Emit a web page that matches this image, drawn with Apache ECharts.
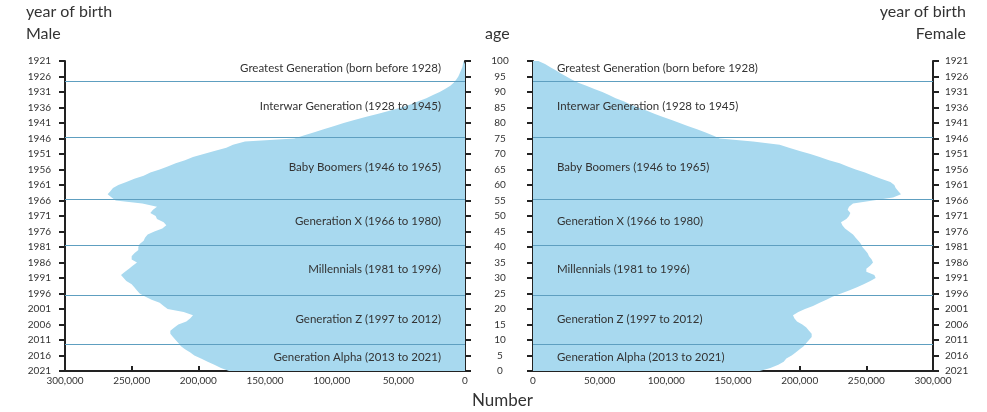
<!DOCTYPE html>
<html>
<head>
<meta charset="utf-8">
<script src="https://cdn.jsdelivr.net/npm/echarts@6/dist/echarts.min.js"></script>
<style>
html,body{margin:0;padding:0;background:#fff;}
#chart{width:987px;height:412px;}
</style>
</head>
<body>
<div id="chart"></div>
<script>
// Age categories (0..100) and matching year of birth tick labels
const ages = [];
const birthYears = [];
for (let a = 0; a <= 100; a++) { ages.push(String(a)); birthYears.push(String(2021 - a)); }

// Population by single year of age, age 0 .. 100
const male = [177000,183000,188000,193000,198000,203000,206000,210000,213000,215000,
  217000,219000,221000,221000,218000,215000,209000,206000,204000,211000,
  223000,226000,229000,235000,240000,244000,246000,248000,250000,254000,
  256000,258000,255000,252000,249000,246000,250000,250000,248000,245000,
  245000,244000,241000,240000,238000,233000,227000,224000,226000,231000,
  232000,236000,234000,231000,242000,262000,265000,268000,266000,264000,
  260000,254000,248000,241000,236000,229000,223000,217000,210000,204000,
  196000,188000,179000,174000,165000,128000,121000,113000,106000,98000,
  91000,83000,74000,65000,56000,48000,41000,35000,29000,24000,
  19000,15000,11000,8500,6500,5000,4000,3000,2000,1500,1000];

const female = [170000,178000,184000,188000,190000,194000,197000,200000,203000,205000,
  207000,209000,209000,207000,205000,202000,198000,196000,195000,199000,
  204000,210000,215000,220000,225000,231000,237000,243000,248000,253000,
  257000,256000,250000,250000,253000,255000,254000,252000,251000,249000,
  247000,246000,244000,242000,240000,237000,234000,232000,231000,235000,
  237000,238000,236000,237000,240000,255000,270000,276000,274000,272000,
  271000,268000,261000,255000,249000,242000,236000,230000,222000,215000,
  208000,200000,192000,185000,165000,140000,135000,129000,123000,116000,
  110000,104000,97000,91000,85000,79000,73000,68000,62000,57000,
  52000,46000,40000,34000,29000,25000,21000,17000,13000,9000,4000];

// Generation bands (age ranges at census) and their names
const genNames = ['Greatest Generation (born before 1928)','Interwar Generation (1928 to 1945)',
  'Baby Boomers (1946 to 1965)','Generation X (1966 to 1980)','Millennials (1981 to 1996)',
  'Generation Z (1997 to 2012)','Generation Alpha (2013 to 2021)'];
const genLow  = [93.5, 75.5, 55.5, 40.5, 24.5, 8.5, 0];
const genHigh = [100, 93.5, 75.5, 55.5, 40.5, 24.5, 8.5];
const genBoundaries = [93.5, 75.5, 55.5, 40.5, 24.5, 8.5];

const FONT = 'Lato';
const TXT = '#333';
const FILL = '#a8d9ef';
const GENLINE = '#5e9fc0';
const AXIS = '#222';

function fmt(v){ return v.toLocaleString('en-US'); }

function markers(side){
  return {
    type: 'line', data: [], xAxisIndex: side, yAxisIndex: side*3 + 2, z: 10, silent: true,
    markLine: {
      silent: true, symbol: 'none', z: 10,
      lineStyle: {color: GENLINE, width: 1, type: 'solid'},
      label: {show: false},
      data: genBoundaries.map(v => ({yAxis: v}))
    },
    markArea: {
      silent: true, z: 10,
      itemStyle: {color: 'rgba(0,0,0,0)'},
      label: {
        show: true,
        position: side === 0 ? 'insideRight' : 'insideLeft',
        distance: 24,
        color: TXT, fontFamily: FONT, fontSize: 11.5
      },
      data: genNames.map((n, i) => [
        {name: n, yAxis: genLow[i], label: {offset: [0, i < 2 ? -3 : -1]}},
        {yAxis: genHigh[i]}
      ])
    }
  };
}

function xAxisFor(grid, inverse){
  return {
    type: 'value', gridIndex: grid, min: 0, max: 300000, interval: 50000, inverse: inverse,
    axisLine: {show: true, lineStyle: {color: AXIS, width: 2}},
    axisTick: {show: true, inside: true, length: 5, lineStyle: {color: AXIS, width: 2}},
    axisLabel: {formatter: fmt, color: TXT, fontFamily: FONT, fontSize: 10, margin: 5},
    splitLine: {show: false}
  };
}

function catAxis(grid, pos, labels, showLabel, align, margin){
  return {
    type: 'category', gridIndex: grid, position: pos, data: labels, boundaryGap: false,
    axisLine: {show: true, onZero: false, lineStyle: {color: AXIS, width: 2}},
    axisTick: {show: true, interval: 4, length: 6, alignWithLabel: true, lineStyle: {color: AXIS, width: 2}},
    axisLabel: {show: showLabel, interval: 4, color: TXT, fontFamily: FONT, fontSize: 10, align: align, margin: margin},
    splitLine: {show: false}
  };
}

function hiddenVal(grid){
  return {type: 'value', gridIndex: grid, min: 0, max: 100, show: false, splitLine: {show: false}};
}

const titleStyle = {color: TXT, fontFamily: FONT, fontSize: 16, fontWeight: 'normal'};

const option = {
  backgroundColor: '#fff',
  animation: false,
  title: [
    {text: 'year of birth', left: 26, top: 4, padding: 0, textStyle: titleStyle},
    {text: 'Male', left: 26, top: 26, padding: 0, textStyle: titleStyle},
    {text: 'age', left: 485, top: 26, padding: 0, textStyle: titleStyle},
    {text: 'year of birth', right: 21, top: 4, padding: 0, textStyle: titleStyle},
    {text: 'Female', right: 21, top: 26, padding: 0, textStyle: titleStyle},
    {text: 'Number', left: 472, top: 392, padding: 0, textStyle: Object.assign({}, titleStyle, {fontSize: 17})}
  ],
  grid: [
    {left: 65, top: 61, width: 400, height: 310},
    {left: 533, top: 61, width: 400, height: 310}
  ],
  xAxis: [xAxisFor(0, true), xAxisFor(1, false)],
  yAxis: [
    catAxis(0, 'left', birthYears, true, 'right', 14),
    catAxis(0, 'right', ages, false, 'center', 8),
    hiddenVal(0),
    catAxis(1, 'left', ages, true, 'center', 33),
    catAxis(1, 'right', birthYears, true, 'left', 12),
    hiddenVal(1)
  ],
  series: [
    {
      name: 'Male', type: 'line', xAxisIndex: 0, yAxisIndex: 0, data: male,
      symbol: 'none', smooth: false, z: 2,
      lineStyle: {width: 0, color: FILL}, itemStyle: {color: FILL},
      areaStyle: {color: FILL, opacity: 1}
    },
    {
      name: 'Female', type: 'line', xAxisIndex: 1, yAxisIndex: 3, data: female,
      symbol: 'none', smooth: false, z: 2,
      lineStyle: {width: 0, color: FILL}, itemStyle: {color: FILL},
      areaStyle: {color: FILL, opacity: 1}
    },
    markers(0),
    markers(1)
  ]
};

const chart = echarts.init(document.getElementById('chart'), null, {renderer: 'canvas'});
chart.setOption(option);
</script>
</body>
</html>
